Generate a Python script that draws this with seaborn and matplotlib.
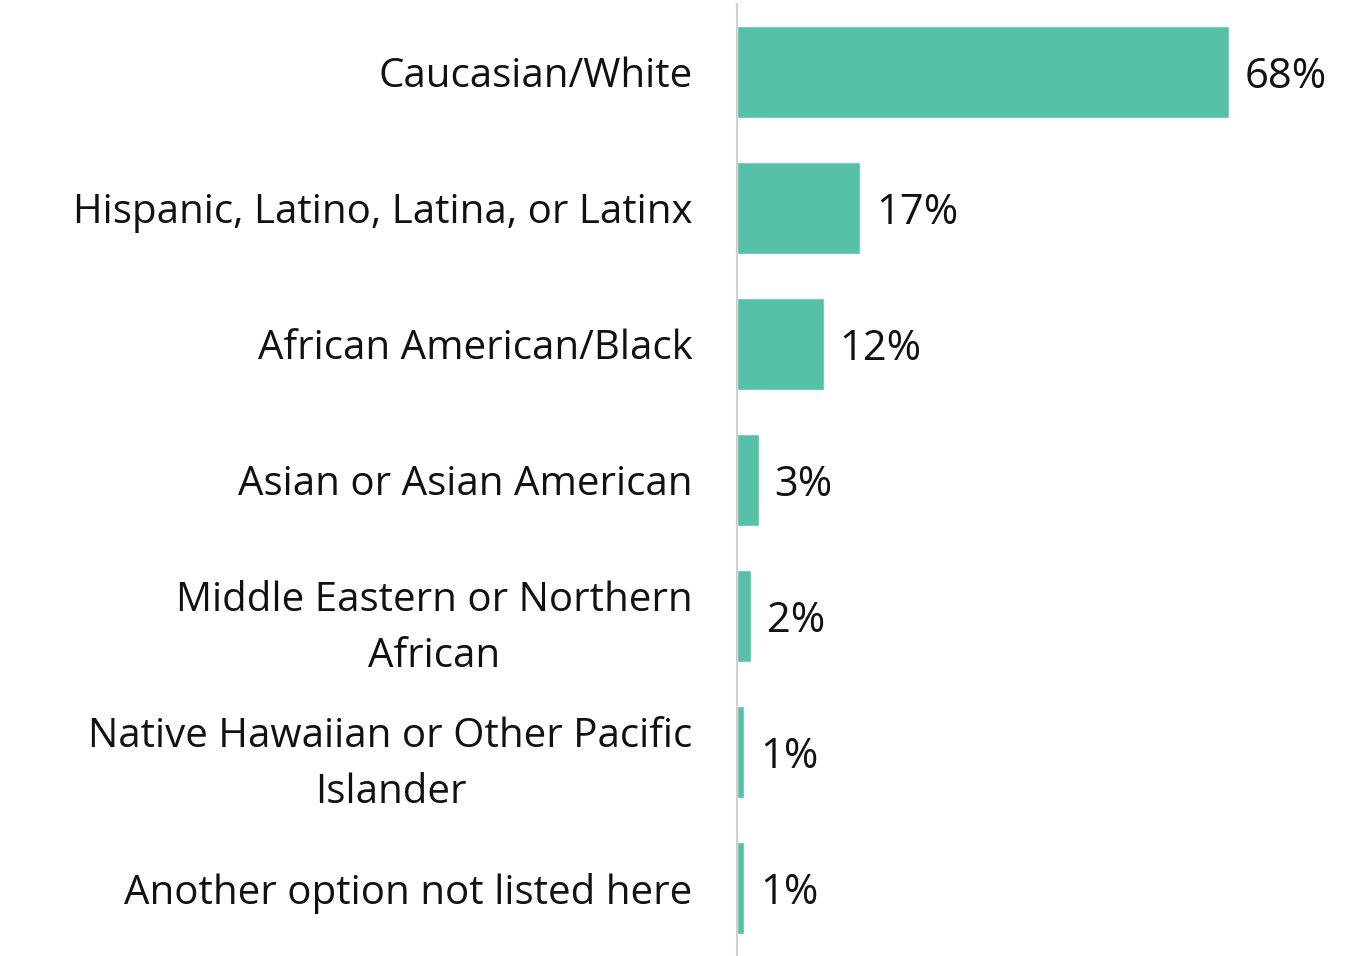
import matplotlib
matplotlib.use("Agg")
import matplotlib.pyplot as plt
import seaborn as sns
import pandas as pd

# Data
categories = [
    "Caucasian/White",
    "Hispanic, Latino, Latina, or Latinx",
    "African American/Black",
    "Asian or Asian American",
    "Middle Eastern or Northern\nAfrican",
    "Native Hawaiian or Other Pacific\nIslander",
    "Another option not listed here",
]
percent = [68, 17, 12, 3, 2, 1, 1]

df = pd.DataFrame({"category": categories, "percent": percent})

sns.set_style("white")
plt.rcParams["font.family"] = ["Open Sans", "DejaVu Sans"]

fig = plt.figure(figsize=(13.66, 9.56), dpi=100)
ax = fig.add_axes([737 / 1366, 0.0, 1 - 737 / 1366, 1 - 4 / 956])

sns.barplot(data=df, x="percent", y="category", color="#57C1A7",
            width=0.68, saturation=1, ax=ax)

ax.set_xlim(0, 87)
ax.set_ylim(6.5, -0.5)
ax.set_xlabel("")
ax.set_ylabel("")
ax.set_xticks([])

# value labels right of each bar
for i, v in enumerate(percent):
    ax.text(v + 2.2, i, f"{v}%", va="center_baseline", ha="left",
            fontsize=30, color="#111111")

ax.tick_params(axis="y", length=0, pad=32, labelsize=29, labelcolor="#111111")
for lbl in ax.get_yticklabels():
    lbl.set_multialignment("center")
    lbl.set_linespacing(1.5)

for s in ["top", "right", "bottom"]:
    ax.spines[s].set_visible(False)
ax.spines["left"].set_color("#d0d0d0")
ax.spines["left"].set_linewidth(1.5)

fig.savefig("out.png", dpi=100)
